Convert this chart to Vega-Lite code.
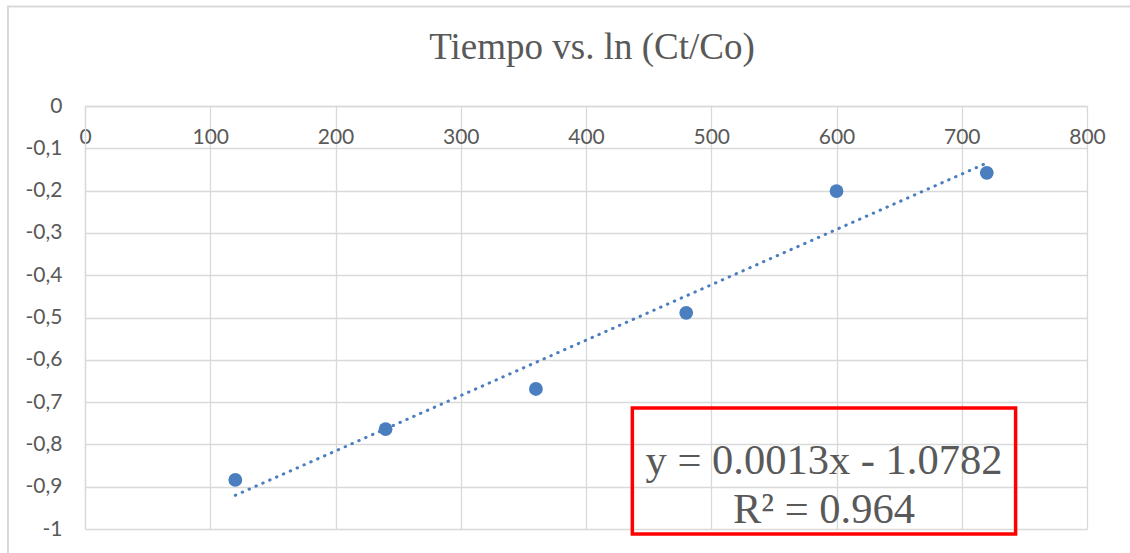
{
  "$schema": "https://vega.github.io/schema/vega-lite/v6.json",
  "width": 1002,
  "height": 423,
  "autosize": {"type": "none"},
  "padding": {"left": 85, "top": 106, "right": 43, "bottom": 24},
  "background": "white",
  "config": {
    "view": {"stroke": null},
    "axis": {
      "gridColor": "#d9d9d9",
      "gridWidth": 1.3,
      "domainColor": "#d9d9d9",
      "domainWidth": 1.3,
      "ticks": false,
      "labelFont": "Lato",
      "labelFontSize": 21,
      "labelColor": "#595959",
      "labelFlush": false,
      "labelOverlap": false,
      "title": null
    }
  },
  "title": {
    "text": "Tiempo vs. ln (Ct/Co)",
    "font": "Liberation Serif",
    "fontSize": 37,
    "fontWeight": "normal",
    "color": "#595959",
    "anchor": "middle",
    "frame": "group",
    "dx": 6,
    "offset": -61
  },
  "datasets": {
    "pts": [
      {"x": 120, "y": -0.884},
      {"x": 240, "y": -0.764},
      {"x": 360, "y": -0.669},
      {"x": 480, "y": -0.489},
      {"x": 600, "y": -0.201},
      {"x": 720, "y": -0.158}
    ]
  },
  "encoding": {
    "x": {
      "field": "x",
      "type": "quantitative",
      "title": null,
      "scale": {"domain": [0, 800], "nice": false, "zero": false},
      "axis": {
        "orient": "bottom",
        "offset": -423,
        "values": [0, 100, 200, 300, 400, 500, 600, 700, 800],
        "labelBaseline": "top",
        "labelPadding": 20,
        "grid": true
      }
    },
    "y": {
      "field": "y",
      "type": "quantitative",
      "title": null,
      "scale": {"domain": [-1, 0], "nice": false, "zero": false},
      "axis": {
        "values": [0, -0.1, -0.2, -0.3, -0.4, -0.5, -0.6, -0.7, -0.8, -0.9, -1],
        "labelExpr": "replace(datum.value + '', '.', ',')",
        "labelPadding": 23,
        "grid": true
      }
    }
  },
  "layer": [
    {
      "data": {"values": [{"x": -61.5, "x2": 1000, "y": 0.235, "y2": -1.3}]},
      "mark": {"type": "rect", "filled": false, "stroke": "#d9d9d9", "strokeWidth": 2},
      "encoding": {
        "x2": {"field": "x2"},
        "y2": {"field": "y2"}
      }
    },
    {
      "data": {"name": "pts"},
      "mark": {"type": "circle", "size": 190, "color": "#4a7ebf", "opacity": 1}
    },
    {
      "data": {"name": "pts"},
      "transform": [{"regression": "y", "on": "x"}],
      "mark": {"type": "line", "color": "#4a7ebf", "strokeWidth": 3, "strokeCap": "round", "strokeDash": [0.5, 7]}
    },
    {
      "data": {"values": [{"x": 437, "x2": 743, "y": -0.714, "y2": -1.012}]},
      "mark": {"type": "rect", "filled": false, "stroke": "#ff0000", "strokeWidth": 3.5},
      "encoding": {
        "x2": {"field": "x2"},
        "y2": {"field": "y2"}
      }
    },
    {
      "data": {"values": [{"x": 590, "y": -0.87, "label": "y = 0.0013x - 1.0782\nR² = 0.964"}]},
      "mark": {"type": "text", "font": "Liberation Serif", "fontSize": 42.5, "color": "#595959", "align": "center", "baseline": "alphabetic", "lineBreak": "\n", "lineHeight": 49},
      "encoding": {
        "text": {"field": "label"}
      }
    }
  ]
}
